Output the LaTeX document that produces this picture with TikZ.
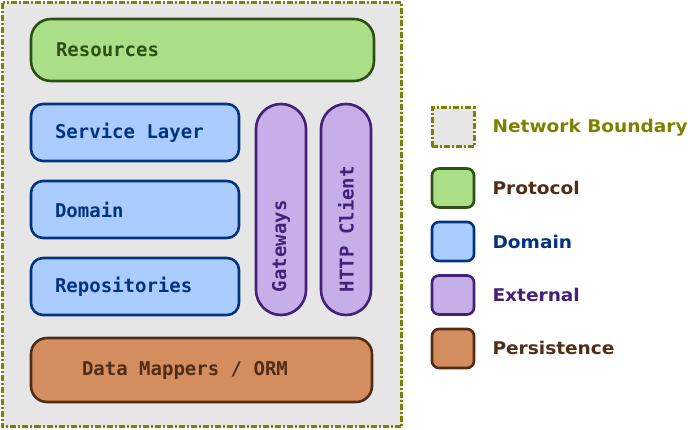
\documentclass[tikz,border=0pt]{standalone}
\usepackage{fontspec}
\setmainfont{DejaVu Sans}
\newfontfamily\boxfont{DejaVu Sans Mono}
\newfontfamily\keyfont[FakeStretch=1.06]{DejaVu Sans}
\usetikzlibrary{positioning}

\definecolor{protofill}{HTML}{AADE87}
\definecolor{protoline}{HTML}{2D5016}
\definecolor{domfill}{HTML}{AACCFF}
\definecolor{domline}{HTML}{003380}
\definecolor{extfill}{HTML}{C6AFE9}
\definecolor{extline}{HTML}{442178}
\definecolor{persfill}{HTML}{D38D5F}
\definecolor{persline}{HTML}{502D16}
\definecolor{netfill}{HTML}{E6E6E6}
\definecolor{netline}{HTML}{808000}

\tikzset{
  layer/.style={line width=2.6pt, align=flush left, inner ysep=0pt,
    font=\boxfont\bfseries\fontsize{19}{22}\selectfont},
  proto/.style={layer, fill=protofill, draw=protoline, text=protoline},
  dom/.style={layer, fill=domfill, draw=domline, text=domline, rounded corners=12pt,
    minimum height=57pt, text width=160pt, inner xsep=24pt},
  ext/.style={layer, fill=extfill, draw=extline, text=extline, rounded corners=25pt,
    rotate=90, minimum height=50pt, text width=165pt, inner xsep=23pt},
  pers/.style={layer, fill=persfill, draw=persline, text=persline},
  netedge/.style={draw=netline, line width=3pt, dash pattern=on 6pt off 2pt on 2pt off 2pt},
  icon/.style={minimum width=42pt, minimum height=39pt, inner sep=0pt, line width=2.6pt, rounded corners=7pt},
  legtext/.style={anchor=west, font=\keyfont\bfseries\fontsize{17.5}{20}\selectfont}
}

\begin{document}
\begin{tikzpicture}[x=1pt, y=-1pt]
\useasboundingbox (0,0) rectangle (688,429);

% network boundary
\draw[netedge, fill=netfill] (2.5,2.5) rectangle (401.5,426.5);

% layers
\node[proto, rounded corners=20pt, minimum height=62pt, text width=293pt, inner xsep=25pt] (res) at (202.5,50) {Resources};
\node[dom] (svc) at (135,132.5) {Service Layer};
\node[dom] (dmn) at (135,209.5) {Domain};
\node[dom] (repo) at (135,286.5) {Repositories};
\node[ext] (gw) at (281,209.5) {Gateways};
\node[ext] (http) at (346,209.5) {HTTP Client};
\node[pers, rounded corners=16pt, minimum height=64pt, text width=239pt, inner xsep=51pt] (orm) at (201.5,370) {Data Mappers / ORM};

% legend
\node[icon, netedge, fill=netfill, rounded corners=0pt] (kNet) at (453,127) {};
\node[icon, fill=protofill, draw=protoline] (kProto) at (453,188) {};
\node[icon, fill=domfill, draw=domline] (kDom) at (453,241.5) {};
\node[icon, fill=extfill, draw=extline] (kExt) at (453,295) {};
\node[icon, fill=persfill, draw=persline] (kPers) at (453,348.5) {};

\node[legtext, text=netline] (tNet) at (489,128) {Network Boundary};
\node[legtext, text=persline] (tProto) at (489,188) {Protocol};
\node[legtext, text=domline] (tDom) at (489,242) {Domain};
\node[legtext, text=extline] (tExt) at (489,295) {External};
\node[legtext, text=persline] (tPers) at (489,348) {Persistence};
\end{tikzpicture}
\end{document}
